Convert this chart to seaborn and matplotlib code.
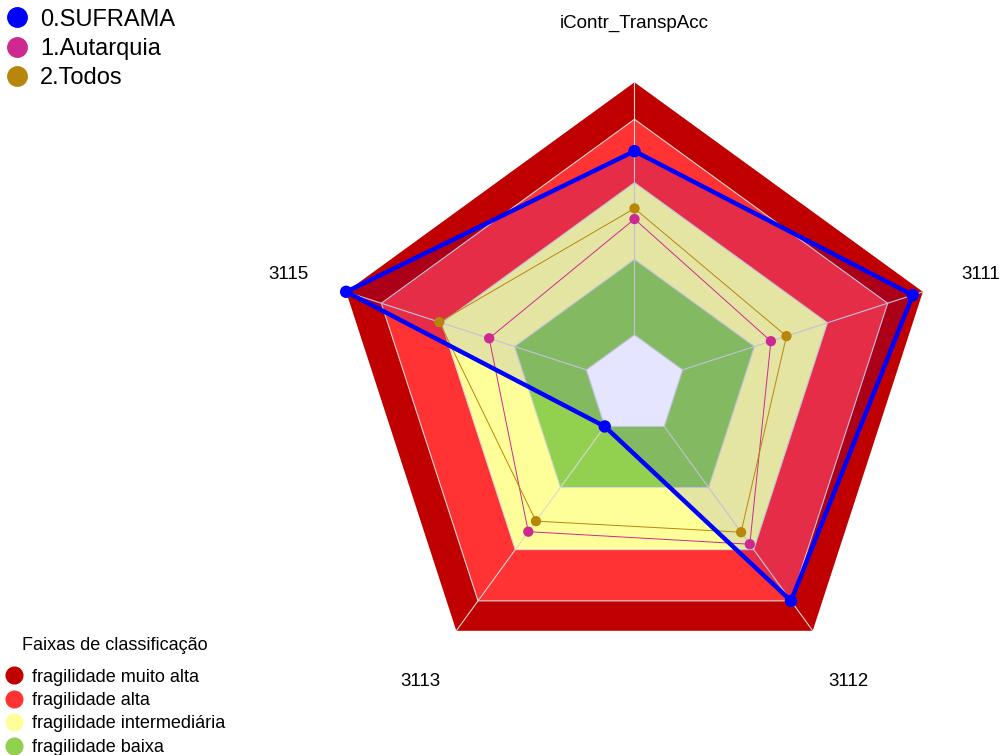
import numpy as np
import pandas as pd
import matplotlib.pyplot as plt
import seaborn as sns
from matplotlib.lines import Line2D

# eixos do radar (sentido horario a partir do topo)
eixos = ["iContr_TranspAcc", "3111", "3112", "3113", "3115"]
grupos = ["0.SUFRAMA", "1.Autarquia", "2.Todos"]
suframa = [0.773, 0.965, 0.878, 0.167, 1.0]
autarquia = [0.549, 0.473, 0.647, 0.596, 0.504]
todos = [0.584, 0.527, 0.598, 0.553, 0.677]

# faixas de classificacao (raio externo de cada faixa)
faixas = ["fragilidade muito alta", "fragilidade alta",
          "fragilidade intermediária", "fragilidade baixa"]
faixas_limite = [1.0, 0.878, 0.669, 0.416]
centro = 0.167
cores_faixas = ["#C00000", "#FF3333", "#FFFF99", "#92D050"]
cores_grupos = ["#0000FF", "#CD2990", "#B8860B"]

sns.set_theme(style="white")
plt.rcParams['font.family'] = ['Liberation Sans', 'DejaVu Sans']
plt.rcParams['text.color'] = 'black'

W, H = 1004, 755
S, cx, cy = 303.2, 634.5, 385.5  # px por unidade, centro em px

angulos = np.deg2rad(90 - 72 * np.arange(len(eixos)))


def pentagono(r):
    r = np.broadcast_to(np.asarray(r, dtype=float), angulos.shape)
    x = r * np.cos(angulos)
    y = r * np.sin(angulos)
    return np.append(x, x[0]), np.append(y, y[0])


fig = plt.figure(figsize=(W / 100, H / 100), dpi=100)
ax = fig.add_axes([0, 0, 1, 1])

# faixas coloridas
for r, c in zip(faixas_limite, cores_faixas):
    ax.fill(*pentagono(r), color=c, lw=0, zorder=1)
ax.fill(*pentagono(centro), color="white", lw=0, zorder=1)

# grade
for r in faixas_limite[1:] + [centro]:
    ax.plot(*pentagono(r), color="#D8D8D8", lw=0.8, zorder=2)
for a in angulos:
    ax.plot([centro * np.cos(a), np.cos(a)], [centro * np.sin(a), np.sin(a)],
            color="#D8D8D8", lw=0.8, zorder=2)

# series
valores = [suframa, autarquia, todos]
linhas = [3.2, 0.7, 0.7]
tamanhos = [80, 55, 55]
ordem = [5, 3, 4]
registros = []
for g, v in zip(grupos, valores):
    x, y = pentagono(v)
    for e, xi, yi in zip(eixos, x[:-1], y[:-1]):
        registros.append({"grupo": g, "eixo": e, "x": xi, "y": yi})
df = pd.DataFrame(registros)

x0, y0 = pentagono(suframa)
ax.fill(x0, y0, color=cores_grupos[0], alpha=0.1, lw=0, zorder=2.5)

for g, c, lw, s, z in zip(grupos, cores_grupos, linhas, tamanhos, ordem):
    sub = df[df["grupo"] == g]
    xs = np.append(sub["x"].values, sub["x"].values[0])
    ys = np.append(sub["y"].values, sub["y"].values[0])
    sns.lineplot(x=xs, y=ys, sort=False, estimator=None, color=c, lw=lw,
                 ax=ax, zorder=z)
    sns.scatterplot(x=sub["x"], y=sub["y"], color=c, s=s, edgecolor="none",
                    ax=ax, zorder=z + 0.5)

ax.set_xlim(-cx / S, (W - cx) / S)
ax.set_ylim(-(H - cy) / S, cy / S)
ax.axis('off')

# rotulos dos eixos
for e, a in zip(eixos, angulos):
    ax.text(1.2 * np.cos(a), 1.2 * np.sin(a) - 0.005, e, ha='center', va='center',
            fontsize=13.5, color="black")

# legenda dos grupos
h1 = [Line2D([], [], marker='o', ls='', color=c, markersize=14) for c in cores_grupos]
leg1 = ax.legend(h1, grupos, loc='upper left', bbox_to_anchor=(5 / W, 1 - 8.5 / H),
                 bbox_transform=fig.transFigure, frameon=False, fontsize=17,
                 handlelength=1.0, handletextpad=0.48, labelspacing=0.31,
                 borderpad=0, borderaxespad=0, labelcolor='black')
ax.add_artist(leg1)

# legenda das faixas
h2 = [Line2D([], [], marker='o', ls='', color=c, markersize=12) for c in cores_faixas]
ax.legend(h2, faixas, loc='upper left', bbox_to_anchor=(5 / W, 1 - 668.5 / H),
          bbox_transform=fig.transFigure, frameon=False, fontsize=13,
          handlelength=1.0, handletextpad=0.5, labelspacing=0.36,
          borderpad=0, borderaxespad=0, labelcolor='black')
fig.text(22 / W, 1 - 645 / H, "Faixas de classificação", ha='left', va='center',
         fontsize=13, color='black')

fig.savefig("out.png", dpi=100)
